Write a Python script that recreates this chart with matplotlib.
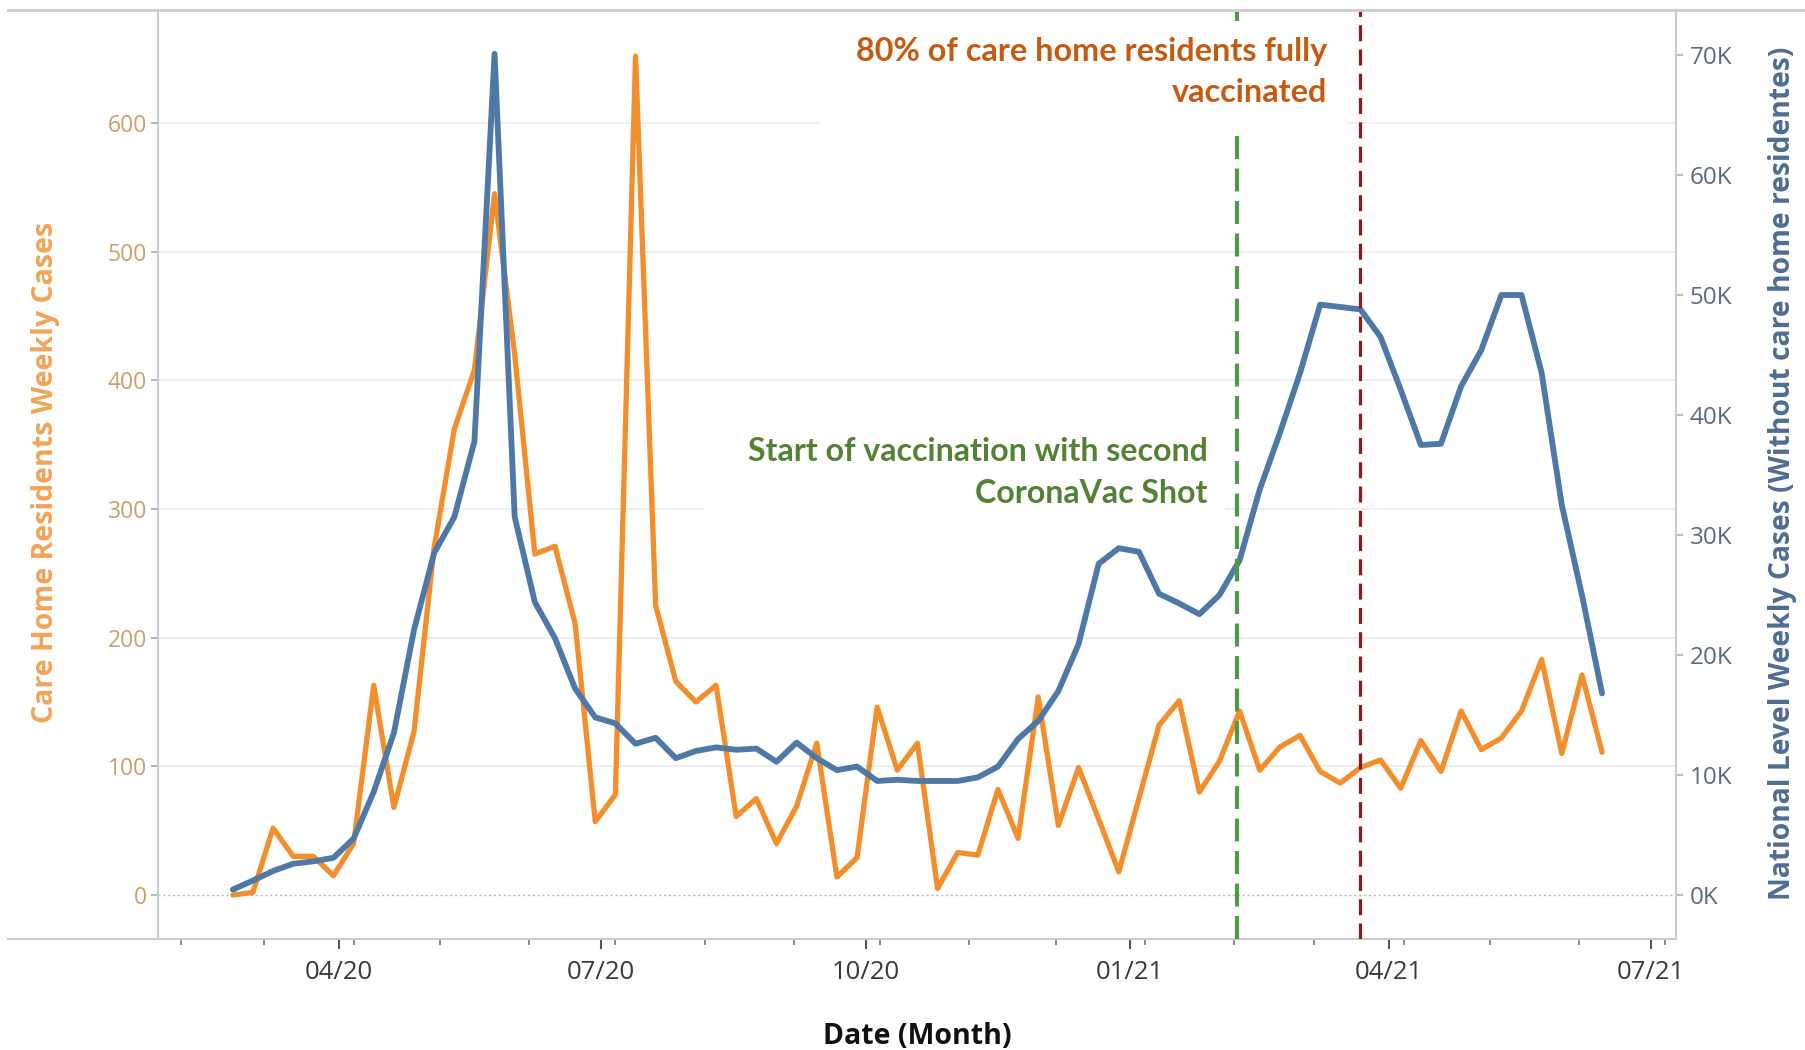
import matplotlib
matplotlib.use("Agg")
import matplotlib.pyplot as plt
import matplotlib.dates as mdates
from matplotlib.patches import Rectangle
from matplotlib.lines import Line2D
from matplotlib.ticker import FuncFormatter
import pandas as pd
import datetime as dt

# ---------------- data ----------------
week_start = "2020-02-24"
care_home_weekly = [0, 2, 52, 30, 30, 15, 40, 163, 68, 127,
                    270, 362, 408, 545, 420, 265, 271, 211, 57, 78,
                    652, 225, 166, 150, 163, 61, 75, 40, 69, 118,
                    14, 29, 146, 97, 118, 5, 33, 31, 82, 44,
                    154, 54, 99, 59, 18, 75, 132, 151, 80, 104,
                    143, 97, 115, 124, 96, 87, 99, 105, 83, 120,
                    96, 143, 113, 122, 143, 183, 110, 171, 111]
national_weekly_k = [0.45, 1.2, 2.0, 2.6, 2.8, 3.1, 4.7, 8.6, 13.5, 22.1,
                     28.5, 31.5, 37.8, 70.1, 31.5, 24.4, 21.4, 17.2, 14.8, 14.3,
                     12.6, 13.1, 11.4, 12.0, 12.3, 12.1, 12.2, 11.1, 12.7, 11.4,
                     10.4, 10.7, 9.5, 9.6, 9.5, 9.5, 9.5, 9.8, 10.7, 13.0,
                     14.5, 17.0, 20.9, 27.6, 28.9, 28.6, 25.1, 24.3, 23.4, 25.0,
                     27.9, 33.8, 38.5, 43.5, 49.2, 49.0, 48.8, 46.5, 42.1, 37.5,
                     37.6, 42.4, 45.4, 50.0, 50.0, 43.5, 32.5, 25.0, 16.8]
weeks = pd.date_range(week_start, periods=len(care_home_weekly), freq="7D")

left_ticks = [0, 100, 200, 300, 400, 500, 600]
right_ticks = [0, 10, 20, 30, 40, 50, 60, 70]
second_dose_date = pd.Timestamp("2021-02-07")
eighty_pct_date = pd.Timestamp("2021-03-22")
second_dose_text = ["Start of vaccination with second", "CoronaVac Shot"]
eighty_pct_text = ["80% of care home residents fully", "vaccinated"]

# ---------------- style ----------------
W_PX, H_PX = 1806, 1050
ORANGE = "#F28E2B"
BLUE = "#4E79A7"
SPINE = "#cccccc"

fig = plt.figure(figsize=(W_PX / 100, H_PX / 100), dpi=100)
fig.patch.set_facecolor("white")

ax_l, ax_r, ax_t, ax_b = 158, 1676, 10, 939
ax1 = fig.add_axes([ax_l / W_PX, 1 - ax_b / H_PX, (ax_r - ax_l) / W_PX, (ax_b - ax_t) / H_PX])
ax2 = ax1.twinx()

# lines
ax1.plot(weeks, care_home_weekly, color=ORANGE, lw=3.8, solid_joinstyle="round",
         solid_capstyle="round", zorder=3)
ax2.plot(weeks, national_weekly_k, color=BLUE, lw=4.2, solid_joinstyle="round",
         solid_capstyle="round", zorder=3)

# limits
x0 = mdates.date2num(dt.date(2020, 4, 1))
ax1.set_xlim(x0 - 63.0, x0 + 464.7)
ax1.set_ylim(-34.2, 687.8)
ax2.set_ylim(-3.67, 73.75)

# gridlines
for v in left_ticks[1:]:
    ax1.axhline(v, color="#ebebeb", lw=1.2, zorder=0)
ax1.axhline(0, color="#b5b5b5", lw=1.0, ls=(0, (1.5, 2)), zorder=1)

# vertical markers
ax2.axvline(second_dose_date, color="#4E9A45", lw=3.0, ls=(0, (5.5, 2.3)), zorder=4)
ax2.axvline(eighty_pct_date, color="#8B1A1A", lw=2.3, ls=(0, (5.0, 2.6)), zorder=4)

# spines
for ax in (ax1, ax2):
    ax.spines["top"].set_visible(False)
    for s in ("left", "right", "bottom"):
        ax.spines[s].set_color(SPINE)
        ax.spines[s].set_linewidth(1.5)
ax1.spines["right"].set_visible(False)
ax2.spines["left"].set_visible(False)
ax2.spines["bottom"].set_visible(False)

# x axis
ax1.xaxis.set_major_locator(mdates.MonthLocator(bymonth=[1, 4, 7, 10]))
ax1.xaxis.set_major_formatter(mdates.DateFormatter("%m/%y"))
ax1.xaxis.set_minor_locator(mdates.MonthLocator(bymonthday=6))
ax1.tick_params(axis="x", which="major", length=7, width=1.5, color="#555555",
                labelsize=18.5, labelcolor="#3a3a3a", pad=8)
ax1.tick_params(axis="x", which="minor", length=4, width=1.2, color="#777777")

# left y axis
ax1.set_yticks(left_ticks)
ax1.tick_params(axis="y", length=5, width=1.2, color="#aaaaaa", labelsize=16.5,
                labelcolor="#C9A06A", pad=3)
# right y axis
ax2.set_yticks(right_ticks)
ax2.yaxis.set_major_formatter(FuncFormatter(lambda v, p: f"{v:.0f}K"))
ax2.tick_params(axis="y", length=5, width=1.2, color="#aaaaaa", labelsize=17.5,
                labelcolor="#5B6B7F", pad=5)

for lab in ax1.get_xticklabels() + ax1.get_yticklabels() + ax2.get_yticklabels():
    lab.set_fontfamily("Open Sans")

# frame lines outside the axes (top rule and extended baseline)
fig.add_artist(Line2D([8 / W_PX, 1.0], [1 - 10 / H_PX] * 2, transform=fig.transFigure,
                      color=SPINE, lw=2.0))
fig.add_artist(Line2D([8 / W_PX, ax_l / W_PX], [1 - ax_b / H_PX] * 2, transform=fig.transFigure,
                      color=SPINE, lw=1.5))

# axis titles
fig.text(46 / W_PX, 1 - 472 / H_PX, "Care Home Residents Weekly Cases", rotation=90,
         ha="center", va="center", fontsize=20.5, fontweight="bold", color="#F0A457",
         family="Open Sans")
fig.text(1783 / W_PX, 1 - 473 / H_PX, "National Level Weekly Cases (Without care home residentes)",
         rotation=90, ha="center", va="center", fontsize=20.3, fontweight="bold",
         color="#4F6D91", family="Open Sans")
fig.text(917 / W_PX, 1 - 1037 / H_PX, "Date (Month)", ha="center", va="center",
         fontsize=20.5, fontweight="bold", color="#111111", family="Open Sans")

# annotation boxes
fig.add_artist(Rectangle((820 / W_PX, 1 - 132 / H_PX), (1348 - 820) / W_PX, (132 - 21) / H_PX,
                         transform=fig.transFigure, fc="white", ec="none", zorder=5))
fig.add_artist(Rectangle((705 / W_PX, 1 - 525 / H_PX), (1225 - 705) / W_PX, (525 - 420) / H_PX,
                         transform=fig.transFigure, fc="white", ec="none", zorder=5))

for txt, base in zip(eighty_pct_text, [61, 102]):
    fig.text(1327 / W_PX, 1 - base / H_PX, txt, ha="right", va="baseline", fontsize=23.3,
             fontweight="bold", color="#C55A11", family="Lato", zorder=6)
for txt, base in zip(second_dose_text, [461, 503]):
    fig.text(1208 / W_PX, 1 - base / H_PX, txt, ha="right", va="baseline", fontsize=23.1,
             fontweight="bold", color="#548235", family="Lato", zorder=6)

fig.savefig("out.png", dpi=100, facecolor="white")
